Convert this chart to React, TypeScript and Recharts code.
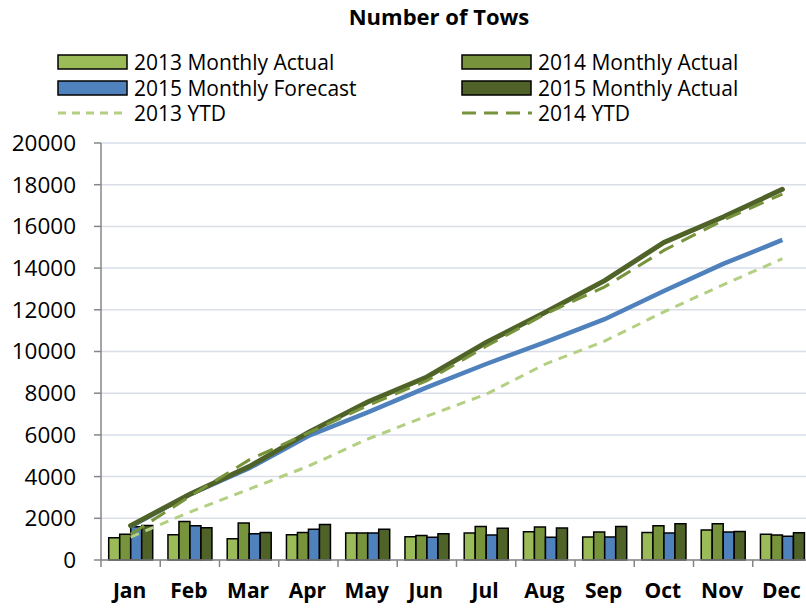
import React from 'react'
import { ComposedChart, Bar, Line, XAxis, YAxis, CartesianGrid } from 'recharts'

const months = ['Jan', 'Feb', 'Mar', 'Apr', 'May', 'Jun', 'Jul', 'Aug', 'Sep', 'Oct', 'Nov', 'Dec']
const actual2013 = [1070, 1210, 1020, 1210, 1300, 1110, 1290, 1350, 1100, 1320, 1440, 1230]
const actual2014 = [1230, 1850, 1770, 1320, 1300, 1180, 1610, 1580, 1340, 1640, 1740, 1200]
const forecast2015 = [1600, 1640, 1260, 1480, 1300, 1090, 1200, 1090, 1100, 1290, 1340, 1140]
const actual2015 = [1660, 1550, 1320, 1700, 1480, 1260, 1520, 1530, 1610, 1740, 1370, 1310]
const ytd2013 = [1100, 2300, 3400, 4500, 5800, 6900, 7950, 9400, 10500, 11900, 13200, 14450]
const ytd2014 = [1230, 3050, 4800, 6100, 7400, 8600, 10250, 11800, 13100, 14850, 16300, 17550]
const ytdForecast2015 = [1600, 3150, 4400, 5950, 7080, 8280, 9400, 10450, 11550, 12900, 14200, 15350]
const ytdActual2015 = [1650, 3150, 4480, 6120, 7580, 8780, 10430, 11880, 13400, 15230, 16450, 17780]
const yTicks = [0, 2000, 4000, 6000, 8000, 10000, 12000, 14000, 16000, 18000, 20000]

const data = months.map((m, i) => ({
  month: m,
  a2013: actual2013[i],
  a2014: actual2014[i],
  f2015: forecast2015[i],
  a2015: actual2015[i],
  y2013: ytd2013[i],
  y2014: ytd2014[i],
  yf2015: ytdForecast2015[i],
  ya2015: ytdActual2015[i],
}))

const FONT = '"Open Sans", sans-serif'
const C2013 = '#9BBB59'
const C2014 = '#77933C'
const CBLUE = '#4F81BD'
const C2015 = '#4F6228'
const CYTD13 = '#B3CF82'
const AXIS = '#868686'

const MonthTick = (props: any) => {
  const { x, y, payload } = props
  const half = payload.offset || 29.6
  return (
    <g>
      <line x1={x - half} x2={x - half} y1={y} y2={y + 7} stroke={AXIS} strokeWidth={1.5} />
      <text x={x - 1} y={y + 38} textAnchor="middle" fontFamily={FONT} fontWeight={700} fontSize={21} fill="#000">
        {payload.value}
      </text>
    </g>
  )
}

const legendItems = [
  { label: '2013 Monthly Actual', kind: 'box', color: C2013 },
  { label: '2014 Monthly Actual', kind: 'box', color: C2014 },
  { label: '2015 Monthly Forecast', kind: 'box', color: CBLUE },
  { label: '2015 Monthly Actual', kind: 'box', color: C2015 },
  { label: '2013 YTD', kind: 'line', color: CYTD13, dash: '8 6' },
  { label: '2014 YTD', kind: 'line', color: C2014, dash: '14 8' },
]

function LegendBlock() {
  return (
    <div style={{ position: 'absolute', left: 57, top: 50, width: 760, fontFamily: FONT, fontSize: 21 }}>
      {legendItems.map((it, i) => (
        <div
          key={it.label}
          style={{
            position: 'absolute',
            left: i % 2 === 0 ? 0 : 404,
            top: Math.floor(i / 2) * 25.5,
            display: 'flex',
            alignItems: 'center',
            height: 24,
            whiteSpace: 'nowrap',
          }}
        >
          <svg width={72} height={20} style={{ marginRight: 5 }}>
            {it.kind === 'box' ? (
              <rect x={1} y={3} width={69} height={14} fill={it.color} stroke="#000" strokeWidth={1.5} />
            ) : (
              <line x1={1} x2={71} y1={10} y2={10} stroke={it.color} strokeWidth={3} strokeDasharray={it.dash} />
            )}
          </svg>
          <span>{it.label}</span>
        </div>
      ))}
    </div>
  )
}

export default function App() {
  return (
    <div style={{ position: 'absolute', left: 0, top: 0, width: 806, height: 608, overflow: 'hidden', background: '#fff' }}>
      <div
        style={{
          position: 'absolute',
          left: 36,
          width: 806,
          top: 1,
          textAlign: 'center',
          fontFamily: FONT,
          fontWeight: 700,
          fontSize: 22,
        }}
      >
        Number of Tows
      </div>
      <LegendBlock />
      <ComposedChart
        width={812}
        height={608}
        data={data}
        margin={{ top: 143, right: 0, bottom: 0, left: 0 }}
        barCategoryGap="13%"
        barGap={0}
      >
        <CartesianGrid vertical={false} stroke="#D9DEE8" strokeWidth={1.5} />
        <XAxis
          dataKey="month"
          height={48}
          tickSize={0}
          tickMargin={0}
          tick={<MonthTick />}
          axisLine={{ stroke: AXIS, strokeWidth: 1.5 }}
          tickLine={false}
          interval={0}
        />
        <YAxis
          width={101}
          domain={[0, 20000]}
          ticks={yTicks}
          interval={0}
          tickSize={7}
          tickMargin={18}
          axisLine={{ stroke: AXIS, strokeWidth: 1.5 }}
          tickLine={{ stroke: AXIS, strokeWidth: 1.5 }}
          tick={{ fontFamily: FONT, fontSize: 22.5, fill: '#000' }}
        />
        <Bar dataKey="a2013" fill={C2013} stroke="#000" strokeWidth={1.5} isAnimationActive={false} />
        <Bar dataKey="a2014" fill={C2014} stroke="#000" strokeWidth={1.5} isAnimationActive={false} />
        <Bar dataKey="f2015" fill={CBLUE} stroke="#000" strokeWidth={1.5} isAnimationActive={false} />
        <Bar dataKey="a2015" fill={C2015} stroke="#000" strokeWidth={1.5} isAnimationActive={false} />
        <Line dataKey="y2013" stroke={CYTD13} strokeWidth={3} strokeDasharray="9 7" dot={false} isAnimationActive={false} />
        <Line dataKey="yf2015" stroke={CBLUE} strokeWidth={4.5} dot={false} isAnimationActive={false} />
        <Line dataKey="ya2015" stroke={C2015} strokeWidth={5} strokeLinecap="round" dot={false} isAnimationActive={false} />
        <Line dataKey="y2014" stroke={C2014} strokeWidth={3} strokeDasharray="16 9" dot={false} isAnimationActive={false} />
      </ComposedChart>
    </div>
  )
}
